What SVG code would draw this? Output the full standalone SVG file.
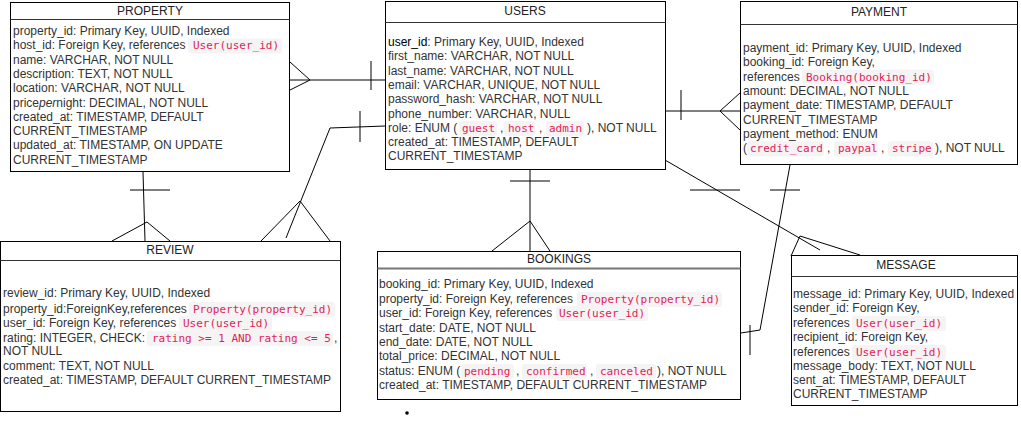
<svg xmlns="http://www.w3.org/2000/svg" width="1021" height="431" viewBox="0 0 1021 431">
<style>
.box{fill:#fff;stroke:#000;stroke-width:1}
.sep{stroke:#333;stroke-width:1}
.t{font-family:"Liberation Sans",Arial,sans-serif;font-size:12px;fill:#333}
.h{font-family:"Liberation Sans",Arial,sans-serif;font-size:12px;fill:#222;text-anchor:middle}
.c{font-family:"DejaVu Sans Mono","Liberation Mono",monospace;font-size:11px;fill:#e01e5a}
.chip{fill:#f5f3f4}
.cn line,.cn polyline{stroke:#000;stroke-width:1;fill:none}
</style>
<rect width="1021" height="431" fill="#fff"/>

<g class="cn" id="connectors">
  <line x1="290" y1="80" x2="385" y2="80"/>
  <line x1="290" y1="62" x2="310" y2="80"/>
  <line x1="290" y1="90" x2="310" y2="80"/>
  <line x1="371" y1="61" x2="371" y2="90"/>

  <polyline points="385,126 330,128 286,238"/>
  <line x1="360" y1="111" x2="360" y2="142"/>
  <line x1="300" y1="201" x2="261" y2="241"/>
  <line x1="300" y1="201" x2="330" y2="241"/>

  <line x1="143" y1="172" x2="145" y2="241"/>
  <line x1="130" y1="190" x2="170" y2="190"/>
  <line x1="147" y1="222" x2="112" y2="241"/>
  <line x1="147" y1="222" x2="170" y2="241"/>

  <line x1="530" y1="170" x2="530" y2="251"/>
  <line x1="510" y1="181" x2="550" y2="181"/>
  <line x1="530" y1="221" x2="492" y2="251"/>
  <line x1="530" y1="221" x2="550" y2="251"/>

  <line x1="666" y1="111" x2="740" y2="111"/>
  <line x1="681" y1="90" x2="681" y2="120"/>
  <line x1="720" y1="111" x2="740" y2="93"/>
  <line x1="720" y1="111" x2="740" y2="130"/>

  <line x1="665" y1="160" x2="820" y2="250"/>
  <line x1="690" y1="190" x2="740" y2="190"/>
  <line x1="800" y1="236" x2="791" y2="256"/>
  <line x1="800" y1="236" x2="860" y2="255"/>

  <polyline points="790,165 760,330 741,333"/>
  <line x1="770" y1="190" x2="800" y2="190"/>
  <line x1="750" y1="325" x2="750" y2="355"/>
</g>

<g id="property">
  <rect class="box" x="10.5" y="2.5" width="279" height="169"/>
  <line class="sep" x1="10.5" y1="19.5" x2="289.5" y2="19.5"/>
  <text class="h" x="150" y="15">PROPERTY</text>
  <text class="t" x="13" y="35">property_id: Primary Key, UUID, Indexed</text>
  <text class="t" x="13" y="49.3">host_id: Foreign Key, references</text>
  <rect class="chip" x="188" y="38.5" width="94" height="15" rx="3"/>
  <text class="c" x="193" y="49.3">User(user_id)</text>
  <text class="t" x="13" y="63.6">name: VARCHAR, NOT NULL</text>
  <text class="t" x="13" y="77.9">description: TEXT, NOT NULL</text>
  <text class="t" x="13" y="92.2">location: VARCHAR, NOT NULL</text>
  <text class="t" x="13" y="106.5">price<tspan font-style="italic">per</tspan>night: DECIMAL, NOT NULL</text>
  <text class="t" x="13" y="120.8">created_at: TIMESTAMP, DEFAULT</text>
  <text class="t" x="13" y="135.1">CURRENT_TIMESTAMP</text>
  <text class="t" x="13" y="149.4">updated_at: TIMESTAMP, ON UPDATE</text>
  <text class="t" x="13" y="163.7">CURRENT_TIMESTAMP</text>
</g>

<g id="users">
  <rect class="box" x="385.5" y="1.5" width="280" height="168"/>
  <line class="sep" x1="385.5" y1="22.5" x2="665.5" y2="22.5"/>
  <text class="h" x="525" y="15">USERS</text>
  <text class="t" x="388" y="46"><tspan fill="#000">user_id</tspan>: Primary Key, UUID, Indexed</text>
  <text class="t" x="388" y="60.3">first_name: VARCHAR, NOT NULL</text>
  <text class="t" x="388" y="74.6">last_name: VARCHAR, NOT NULL</text>
  <text class="t" x="388" y="88.9">email: VARCHAR, UNIQUE, NOT NULL</text>
  <text class="t" x="388" y="103.2">password_hash: VARCHAR, NOT NULL</text>
  <text class="t" x="388" y="117.5">phone_number: VARCHAR, NULL</text>
  <text class="t" x="388" y="131.8">role: ENUM (</text>
  <rect class="chip" x="459" y="121" width="38" height="15" rx="3"/>
  <text class="c" x="462" y="131.8">guest</text>
  <text class="t" x="500" y="131.8">,</text>
  <rect class="chip" x="504" y="121" width="31" height="15" rx="3"/>
  <text class="c" x="508" y="131.8">host</text>
  <text class="t" x="539" y="131.8">,</text>
  <rect class="chip" x="546" y="121" width="38" height="15" rx="3"/>
  <text class="c" x="549" y="131.8">admin</text>
  <text class="t" x="587" y="131.8">), NOT NULL</text>
  <text class="t" x="388" y="146.1">created_at: TIMESTAMP, DEFAULT</text>
  <text class="t" x="388" y="160.4">CURRENT_TIMESTAMP</text>
</g>

<g id="payment">
  <rect class="box" x="740.5" y="1.5" width="277" height="163"/>
  <line class="sep" x1="740.5" y1="24.5" x2="1017.5" y2="24.5"/>
  <text class="h" x="879" y="16">PAYMENT</text>
  <text class="t" x="743" y="52">payment_id: Primary Key, UUID, Indexed</text>
  <text class="t" x="743" y="66.3">booking_id: Foreign Key,</text>
  <text class="t" x="743" y="80.6">references</text>
  <rect class="chip" x="802" y="69.8" width="132" height="15" rx="3"/>
  <text class="c" x="806" y="80.6">Booking(booking_id)</text>
  <text class="t" x="743" y="94.9">amount: DECIMAL, NOT NULL</text>
  <text class="t" x="743" y="109.2">payment_date: TIMESTAMP, DEFAULT</text>
  <text class="t" x="743" y="123.5">CURRENT_TIMESTAMP</text>
  <text class="t" x="743" y="137.8">payment_method: ENUM</text>
  <text class="t" x="743" y="152.1">(</text>
  <rect class="chip" x="747" y="141.3" width="77" height="15" rx="3"/>
  <text class="c" x="750" y="152.1">credit_card</text>
  <text class="t" x="827" y="152.1">,</text>
  <rect class="chip" x="834" y="141.3" width="44" height="15" rx="3"/>
  <text class="c" x="838" y="152.1">paypal</text>
  <text class="t" x="881" y="152.1">,</text>
  <rect class="chip" x="888" y="141.3" width="45" height="15" rx="3"/>
  <text class="c" x="892" y="152.1">stripe</text>
  <text class="t" x="935" y="152.1">), NOT NULL</text>
</g>

<g id="review">
  <rect class="box" x="0.5" y="241.5" width="340" height="170"/>
  <line class="sep" x1="0.5" y1="260.5" x2="340.5" y2="260.5"/>
  <text class="h" x="170" y="254">REVIEW</text>
  <text class="t" x="3" y="297">review_id: Primary Key, UUID, Indexed</text>
  <text class="t" x="3" y="313">property_id:ForeignKey,references</text>
  <rect class="chip" x="189" y="302" width="146" height="15" rx="3"/>
  <text class="c" x="193" y="313">Property(property_id)</text>
  <text class="t" x="3" y="327">user_id: Foreign Key, references</text>
  <rect class="chip" x="179" y="316" width="93" height="15" rx="3"/>
  <text class="c" x="183" y="327">User(user_id)</text>
  <text class="t" x="3" y="342">rating: INTEGER, CHECK:</text>
  <rect class="chip" x="147" y="331" width="186" height="15" rx="3"/>
  <text class="c" x="152" y="342">rating &gt;= 1 AND rating &lt;= 5</text>
  <text class="t" x="334" y="342">,</text>
  <text class="t" x="3" y="355">NOT NULL</text>
  <text class="t" x="3" y="370">comment: TEXT, NOT NULL</text>
  <text class="t" x="3" y="384">created_at: TIMESTAMP, DEFAULT CURRENT_TIMESTAMP</text>
</g>

<g id="bookings">
  <rect class="box" x="377.5" y="251.5" width="363" height="148"/>
  <line x1="377.5" y1="268.5" x2="740.5" y2="268.5" stroke="#777" stroke-width="2"/>
  <text class="h" x="559" y="263">BOOKINGS</text>
  <text class="t" x="379" y="288">booking_id: Primary Key, UUID, Indexed</text>
  <text class="t" x="379" y="303">property_id: Foreign Key, references</text>
  <rect class="chip" x="577" y="292" width="145" height="15" rx="3"/>
  <text class="c" x="581" y="303">Property(property_id)</text>
  <text class="t" x="379" y="317">user_id: Foreign Key, references</text>
  <rect class="chip" x="556" y="306" width="92" height="15" rx="3"/>
  <text class="c" x="559" y="317">User(user_id)</text>
  <text class="t" x="379" y="332">start_date: DATE, NOT NULL</text>
  <text class="t" x="379" y="346">end_date: DATE, NOT NULL</text>
  <text class="t" x="379" y="360">total_price: DECIMAL, NOT NULL</text>
  <text class="t" x="379" y="375">status: ENUM (</text>
  <rect class="chip" x="461" y="364" width="53" height="15" rx="3"/>
  <text class="c" x="464" y="375">pending</text>
  <text class="t" x="516" y="375">,</text>
  <rect class="chip" x="522" y="364" width="65" height="15" rx="3"/>
  <text class="c" x="526" y="375">confirmed</text>
  <text class="t" x="590" y="375">,</text>
  <rect class="chip" x="596" y="364" width="60" height="15" rx="3"/>
  <text class="c" x="600" y="375">canceled</text>
  <text class="t" x="657" y="375">), NOT NULL</text>
  <text class="t" x="379" y="389">created_at: TIMESTAMP, DEFAULT CURRENT_TIMESTAMP</text>
  <circle cx="407" cy="413" r="1.8" fill="#000"/>
</g>

<g id="message">
  <rect class="box" x="791.5" y="255.5" width="226" height="150"/>
  <line class="sep" x1="791.5" y1="276.5" x2="1017.5" y2="276.5"/>
  <text class="h" x="906" y="269">MESSAGE</text>
  <text class="t" x="793" y="298">message_id: Primary Key, UUID, Indexed</text>
  <text class="t" x="793" y="312">sender_id: Foreign Key,</text>
  <text class="t" x="793" y="327">references</text>
  <rect class="chip" x="852" y="316" width="94" height="15" rx="3"/>
  <text class="c" x="856" y="327">User(user_id)</text>
  <text class="t" x="793" y="341">recipient_id: Foreign Key,</text>
  <text class="t" x="793" y="356">references</text>
  <rect class="chip" x="852" y="345" width="94" height="15" rx="3"/>
  <text class="c" x="856" y="356">User(user_id)</text>
  <text class="t" x="793" y="370">message_body: TEXT, NOT NULL</text>
  <text class="t" x="793" y="384">sent_at: TIMESTAMP, DEFAULT</text>
  <text class="t" x="793" y="398">CURRENT_TIMESTAMP</text>
</g>
</svg>
